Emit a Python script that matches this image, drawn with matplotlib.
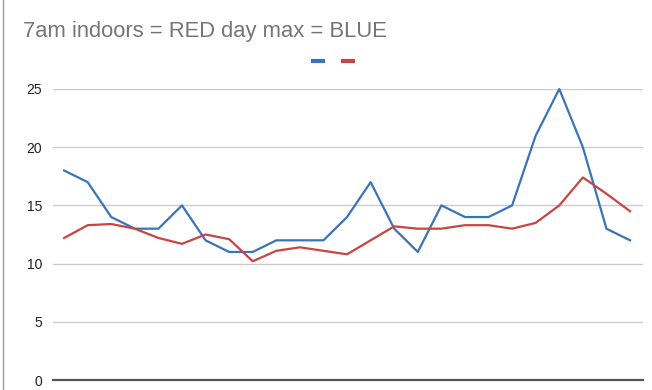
import matplotlib.pyplot as plt
import numpy as np
from matplotlib.lines import Line2D

plt.rcParams['font.family'] = ['Liberation Sans', 'DejaVu Sans']

# daily readings, one point per day
day_max = [18, 17, 14, 13, 13, 15, 12, 11, 11, 12, 12, 12, 14, 17, 13, 11,
           15, 14, 14, 15, 21, 25, 20, 13, 12]
indoor_7am = [12.2, 13.3, 13.4, 13.0, 12.2, 11.7, 12.5, 12.1, 10.2, 11.1, 11.4,
              11.1, 10.8, 12.0, 13.2, 13.0, 13.0, 13.3, 13.3, 13.0, 13.5, 15.0,
              17.4, 16.0, 14.5]
yticks = [0, 5, 10, 15, 20, 25]

blue = '#3a74b8'
red = '#c94442'

W, H = 652, 390
fig = plt.figure(figsize=(W / 100, H / 100), dpi=100)
ax = fig.add_axes([53 / W, 10 / H, 590 / W, 291 / H])

x = np.arange(len(day_max))
ax.plot(x, day_max, color=blue, lw=1.6, clip_on=False, zorder=3)
ax.plot(x, indoor_7am, color=red, lw=1.6, clip_on=False, zorder=3)

ax.set_xlim(-0.47, len(x) - 1 + 0.55)
ax.set_ylim(0, 25)
ax.set_yticks(yticks)
ax.set_xticks([])
ax.tick_params(axis='y', length=0, pad=8, labelsize=10, labelcolor='#222222')
ax.grid(axis='y', color='#cccccc', lw=1)
for s in ['top', 'right', 'left']:
    ax.spines[s].set_visible(False)
ax.spines['bottom'].set_color('#555555')
ax.spines['bottom'].set_linewidth(1.6)
ax.spines['bottom'].set_zorder(4)

fig.text(23 / W, 1 - 37.3 / H, '7am indoors = RED day max = BLUE',
         fontsize=15.8, color='#757575', va='baseline', ha='left')

handles = [Line2D([], [], color=blue, lw=3, solid_capstyle='butt'),
           Line2D([], [], color=red, lw=3, solid_capstyle='butt')]
fig.legend(handles, ['', ''], loc='center', bbox_to_anchor=(333 / W, 1 - 62.3 / H),
           ncol=2, frameon=False, fontsize=10, handlelength=0.97,
           handletextpad=0, columnspacing=1.22, borderpad=0)

# sheet border at the left edge
fig.add_artist(Line2D([2.5 / W, 2.5 / W], [0, 1], color='#999999', lw=1))

fig.savefig('out.png', dpi=100)
